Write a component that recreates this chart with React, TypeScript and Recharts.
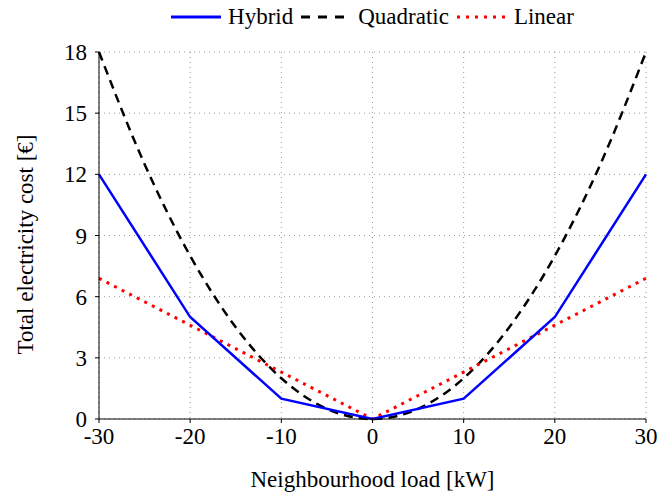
import { LineChart, Line, XAxis, YAxis, CartesianGrid } from "recharts";

// values
const hybridLoad = [-30, -20, -10, 0, 10, 20, 30];
const hybridCost = [12, 5, 1, 0, 1, 5, 12];

const quadLoad = [-30, -25, -20, -15, -10, -5, 0, 5, 10, 15, 20, 25, 30];
const quadCost = [18, 12.5, 8, 4.5, 2, 0.5, 0, 0.5, 2, 4.5, 8, 12.5, 18];

const linearLoad = [-30, 0, 30];
const linearCost = [6.9, 0, 6.9];

const xTicks = [-30, -20, -10, 0, 10, 20, 30];
const yTicks = [0, 3, 6, 9, 12, 15, 18];

const hybridData = hybridLoad.map((x, i) => ({ x, y: hybridCost[i] }));
const quadData = quadLoad.map((x, i) => ({ x, y: quadCost[i] }));
const linearData = linearLoad.map((x, i) => ({ x, y: linearCost[i] }));

const FONT = "'Liberation Serif', 'DejaVu Serif', serif";
const FS = 23;

const legendItems = [
  { name: "Hybrid", color: "#0000ff", dash: undefined as string | undefined },
  { name: "Quadratic", color: "#000000", dash: "9 8" },
  { name: "Linear", color: "#ff0000", dash: "3 6" },
];

function TopLegend() {
  return (
    <div style={{ position: "absolute", top: 3, left: 99, width: 547, display: "flex", justifyContent: "center", alignItems: "center", fontFamily: FONT, fontSize: FS, lineHeight: "28px" }}>
      {legendItems.map((it, i) => (
        <div key={it.name} style={{ display: "flex", alignItems: "center", marginLeft: i === 0 ? 0 : 8 }}>
          <svg width={50} height={10} style={{ marginRight: 7 }}>
            <line x1={0} y1={5} x2={50} y2={5} stroke={it.color} strokeWidth={3} strokeDasharray={it.dash} />
          </svg>
          <span>{it.name}</span>
        </div>
      ))}
    </div>
  );
}

export default function App() {
  if (typeof document !== "undefined") document.body.style.margin = "0";
  return (
    <div style={{ position: "relative", width: 672, height: 494, background: "#fff" }}>
      <LineChart width={672} height={494} margin={{ top: 52, right: 26, left: 0, bottom: 0 }}>
        <CartesianGrid stroke="#999" strokeDasharray="1 4" />
        <XAxis
          type="number"
          dataKey="x"
          domain={[-30, 30]}
          ticks={xTicks}
          height={75}
          stroke="#000"
          tickSize={4}
          tick={{ fill: "#000", fontSize: FS, fontFamily: FONT }}
          tickMargin={5}
          label={{ value: "Neighbourhood load [kW]", position: "insideBottom", offset: 7, fill: "#000", fontSize: FS, fontFamily: FONT }}
        />
        <YAxis
          type="number"
          domain={[0, 18]}
          ticks={yTicks}
          width={99}
          stroke="#000"
          tickSize={4}
          tick={{ fill: "#000", fontSize: FS, fontFamily: FONT }}
          tickMargin={8}
          label={{ value: "Total electricity cost [€]", angle: -90, position: "insideLeft", offset: 25, dy: 119, fill: "#000", fontSize: FS, fontFamily: FONT }}
        />
        <Line data={quadData} dataKey="y" type="monotone" stroke="#000" strokeWidth={2.5} strokeDasharray="9 6" dot={false} isAnimationActive={false} />
        <Line data={linearData} dataKey="y" type="linear" stroke="#ff0000" strokeWidth={3} strokeDasharray="3 5.5" dot={false} isAnimationActive={false} />
        <Line data={hybridData} dataKey="y" type="linear" stroke="#0000ff" strokeWidth={2.5} dot={false} isAnimationActive={false} />
      </LineChart>
      <TopLegend />
    </div>
  );
}
